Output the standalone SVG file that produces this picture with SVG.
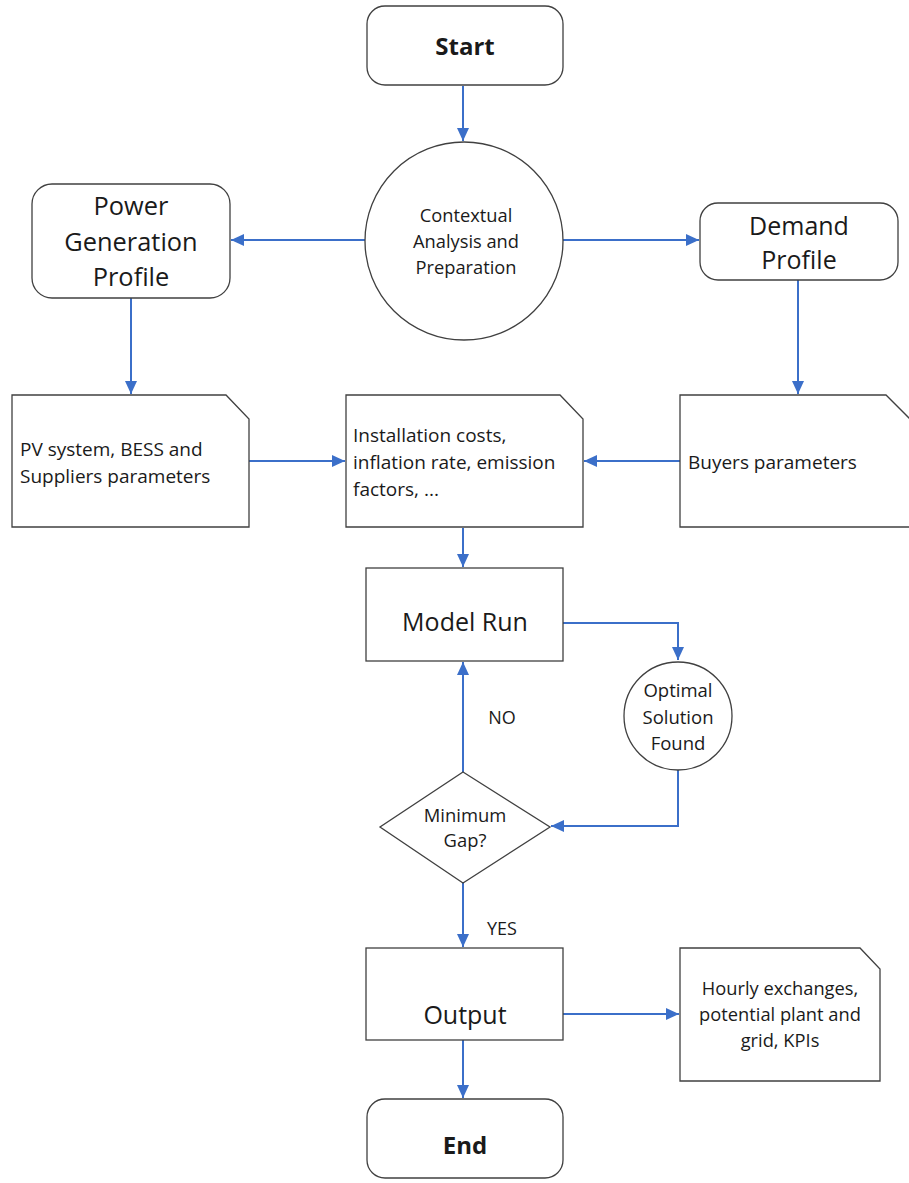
<svg xmlns="http://www.w3.org/2000/svg" width="909" height="1183" viewBox="0 0 909 1183">
<style>
.n{fill:#fff;stroke:#404040;stroke-width:1.3}
.t{font-family:"Open Sans","Noto Sans",sans-serif;fill:#1a1a1a}
.c{fill:none;stroke:#3b6fc9;stroke-width:2}
</style>
<defs>
<marker id="ah" markerUnits="userSpaceOnUse" markerWidth="14" markerHeight="14" viewBox="0 0 14 14" refX="13" refY="7" orient="auto">
<path d="M0,1 L13,7 L0,13 z" fill="#3b6fc9"/>
</marker>
</defs>
<rect width="909" height="1183" fill="#fff"/>
<g id="connectors">
<path class="c" d="M463,86 V141" marker-end="url(#ah)"/>
<path class="c" d="M365,240 H231" marker-end="url(#ah)"/>
<path class="c" d="M563,240 H699" marker-end="url(#ah)"/>
<path class="c" d="M131,298 V394" marker-end="url(#ah)"/>
<path class="c" d="M798,280 V394" marker-end="url(#ah)"/>
<path class="c" d="M249,461 H345" marker-end="url(#ah)"/>
<path class="c" d="M680,461 H584" marker-end="url(#ah)"/>
<path class="c" d="M463,528 V567" marker-end="url(#ah)"/>
<path class="c" d="M563,623 H678 V660" marker-end="url(#ah)"/>
<path class="c" d="M678,770 V826 H551" marker-end="url(#ah)"/>
<path class="c" d="M463,772 V662" marker-end="url(#ah)"/>
<path class="c" d="M463,883 V947" marker-end="url(#ah)"/>
<path class="c" d="M563,1014 H679" marker-end="url(#ah)"/>
<path class="c" d="M463,1040 V1098" marker-end="url(#ah)"/>
<text class="t" x="502" y="724" font-size="18" text-anchor="middle">NO</text>
<text class="t" x="502" y="935" font-size="18" text-anchor="middle">YES</text>
</g>
<g id="start">
<rect class="n" x="367" y="6" width="196" height="79" rx="18"/>
<text class="t" x="465" y="55" font-size="24" font-weight="bold" text-anchor="middle">Start</text>
</g>
<g id="context">
<circle class="n" cx="464" cy="241" r="99"/>
<text class="t" x="466" y="222" font-size="18.3" text-anchor="middle">Contextual</text>
<text class="t" x="466" y="248" font-size="18.3" text-anchor="middle">Analysis and</text>
<text class="t" x="466" y="274" font-size="18.3" text-anchor="middle">Preparation</text>
</g>
<g id="powergen">
<rect class="n" x="32" y="184" width="198" height="114" rx="20"/>
<text class="t" x="131" y="215" font-size="25.4" text-anchor="middle">Power</text>
<text class="t" x="131" y="251" font-size="25.4" text-anchor="middle">Generation</text>
<text class="t" x="131" y="286" font-size="25.4" text-anchor="middle">Profile</text>
</g>
<g id="demand">
<rect class="n" x="700" y="203" width="198" height="77" rx="18"/>
<text class="t" x="799" y="235" font-size="25" text-anchor="middle">Demand</text>
<text class="t" x="799" y="269" font-size="25" text-anchor="middle">Profile</text>
</g>
<g id="pvdoc">
<path class="n" d="M12,395 H226 L249,419 V527 H12 Z"/>
<text class="t" x="20" y="456" font-size="19">PV system, BESS and</text>
<text class="t" x="20" y="483" font-size="19">Suppliers parameters</text>
</g>
<g id="installdoc">
<path class="n" d="M346,395 H560 L583,419 V527 H346 Z"/>
<text class="t" x="353" y="442" font-size="19">Installation costs,</text>
<text class="t" x="353" y="469" font-size="19">inflation rate, emission</text>
<text class="t" x="353" y="496" font-size="19">factors, ...</text>
</g>
<g id="buyersdoc">
<path class="n" d="M680,395 H886 L912,421 V527 H680 Z"/>
<text class="t" x="688" y="469" font-size="19">Buyers parameters</text>
</g>
<g id="modelrun">
<rect class="n" x="366" y="568" width="197" height="93"/>
<text class="t" x="465" y="631" font-size="25" text-anchor="middle">Model Run</text>
</g>
<g id="optimal">
<circle class="n" cx="678" cy="716" r="54"/>
<text class="t" x="678" y="697" font-size="18.5" text-anchor="middle">Optimal</text>
<text class="t" x="678" y="724" font-size="18.5" text-anchor="middle">Solution</text>
<text class="t" x="678" y="750" font-size="18.5" text-anchor="middle">Found</text>
</g>
<g id="mingap">
<path class="n" d="M463,772 L550,827 L463,883 L380,827 Z"/>
<text class="t" x="465" y="822" font-size="18.4" text-anchor="middle">Minimum</text>
<text class="t" x="465" y="847" font-size="18.4" text-anchor="middle">Gap?</text>
</g>
<g id="output">
<rect class="n" x="366" y="948" width="197" height="92"/>
<text class="t" x="465" y="1024" font-size="25" text-anchor="middle">Output</text>
</g>
<g id="hourlydoc">
<path class="n" d="M680,948 H860 L880,969 V1081 H680 Z"/>
<text class="t" x="780" y="995" font-size="18.3" text-anchor="middle">Hourly exchanges,</text>
<text class="t" x="780" y="1021" font-size="18.3" text-anchor="middle">potential plant and</text>
<text class="t" x="780" y="1047" font-size="18.3" text-anchor="middle">grid, KPIs</text>
</g>
<g id="end">
<rect class="n" x="367" y="1099" width="196" height="79" rx="18"/>
<text class="t" x="465" y="1154" font-size="24" font-weight="bold" text-anchor="middle">End</text>
</g>
</svg>
